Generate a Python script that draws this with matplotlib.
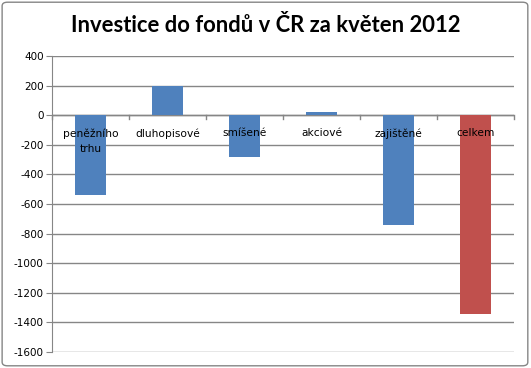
import matplotlib
matplotlib.use("Agg")
import matplotlib.pyplot as plt
from matplotlib.patches import FancyBboxPatch

categories = ["peněžního\ntrhu", "dluhopisové", "smíšené", "akciové", "zajištěné", "celkem"]
values = [-540, 200, -280, 20, -740, -1343]
colors = ["#4F81BD", "#4F81BD", "#4F81BD", "#4F81BD", "#4F81BD", "#C0504D"]
yticks = list(range(-1600, 401, 200))
title = "Investice do fondů v ČR za květen 2012"

fig = plt.figure(figsize=(5.31, 3.68), dpi=100)
fig.patch.set_facecolor("white")
border = FancyBboxPatch((0.004, 0.006), 0.99, 0.988, boxstyle="round,pad=0,rounding_size=0.01",
                        transform=fig.transFigure, facecolor="none", edgecolor="#868686", lw=1.0)
fig.patches.append(border)

ax = fig.add_axes([0.098, 0.0435, 0.870, 0.8045])
x = list(range(len(categories)))
ax.bar(x, values, width=0.4, color=colors, zorder=3)
ax.set_xlim(-0.5, len(categories) - 0.5)
ax.set_ylim(-1600, 400)
ax.set_yticks(yticks)
ax.set_yticklabels([str(v) for v in yticks], fontsize=7.5, family="DejaVu Sans")
ax.yaxis.grid(True, color="#868686", lw=1.0, zorder=0)
ax.tick_params(axis="y", length=4, color="#868686", pad=2)
ax.set_xticks([])
for s in ["top", "right", "bottom"]:
    ax.spines[s].set_visible(False)
ax.spines["left"].set_color("#868686")
ax.axhline(0, color="#868686", lw=1.0, zorder=2)
# category boundary ticks on zero line
for b in [i + 0.5 for i in range(-1, len(categories))]:
    ax.plot([b, b], [0, -25], color="#868686", lw=1.0, zorder=2, clip_on=False)
for i, c in enumerate(categories):
    ax.annotate(c, xy=(i, 0), xytext=(0, -9.5), textcoords="offset points",
                ha="center", va="top", fontsize=7.7, family="DejaVu Sans",
                linespacing=1.65, zorder=4)

fig.text(0.5, 0.93, title, ha="center", va="center", fontsize=15.8, fontweight="bold",
         family="Lato")

fig.savefig("out.png", dpi=100)
